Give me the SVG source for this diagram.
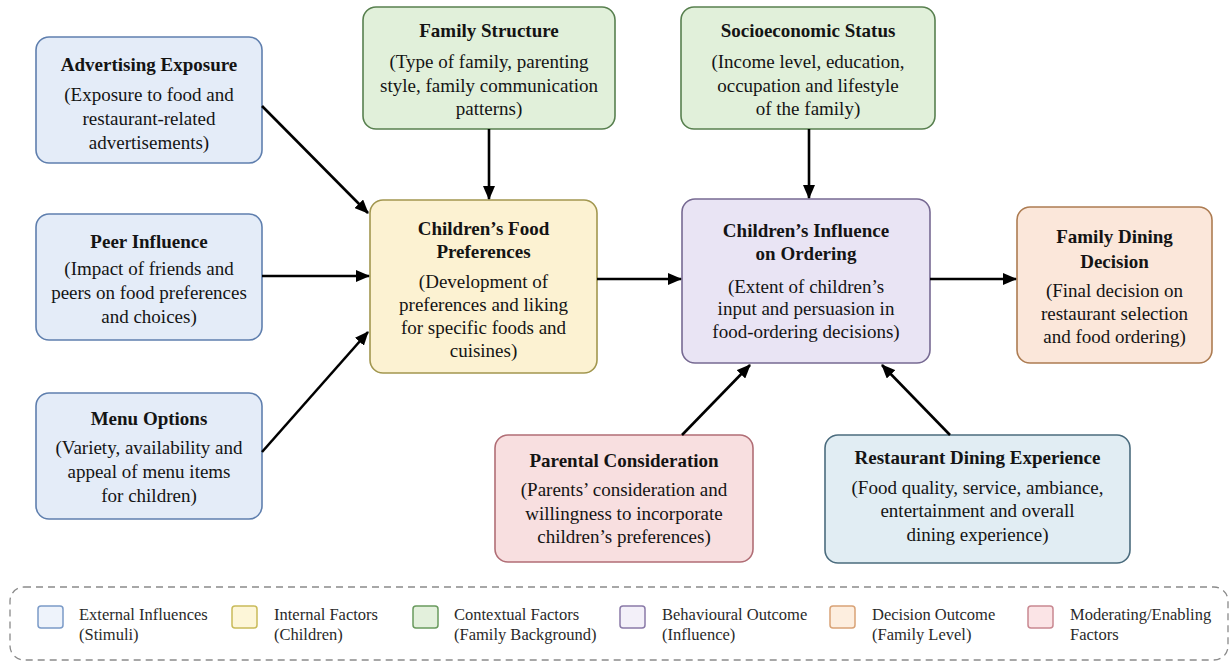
<svg xmlns="http://www.w3.org/2000/svg" width="1231" height="663" viewBox="0 0 1231 663">
<style>
.box{stroke-width:1.6}
.ext{fill:#e4ecf8;stroke:#5f7fae}
.int{fill:#fcf2d2;stroke:#a2974f}
.ctx{fill:#e1f0da;stroke:#58804f}
.beh{fill:#e9e4f4;stroke:#776a93}
.dec{fill:#fbe7da;stroke:#ad7c52}
.mod{fill:#f8dfe0;stroke:#b16e76}
.rde{fill:#e1edf3;stroke:#4b6c7e}
text{font-family:"Liberation Serif","Times New Roman",serif;fill:#141414;text-anchor:middle}
.t{font-size:19px;font-weight:bold}
.b{font-size:19px}
.lg{font-size:16.5px;text-anchor:start;fill:#2a2a2a}
.conn line{stroke:#000;stroke-width:2.6;marker-end:url(#ah)}
.lsq{stroke-width:1.5}
</style>
<defs>
<marker id="ah" markerUnits="userSpaceOnUse" markerWidth="14" markerHeight="12" refX="13" refY="6" orient="auto">
<path d="M0,0 L14,6 L0,12 z" fill="#000"/>
</marker>
</defs>
<rect width="1231" height="663" fill="#fff"/>

<g id="advertising">
<rect class="box ext" x="36" y="37" width="226" height="126" rx="13"/>
<text class="t" x="149" y="71">Advertising Exposure</text>
<text class="b" x="149" y="101">(Exposure to food and</text>
<text class="b" x="149" y="125">restaurant-related</text>
<text class="b" x="149" y="149">advertisements)</text>
</g>
<g id="peer">
<rect class="box ext" x="36" y="214" width="226" height="126" rx="13"/>
<text class="t" x="149" y="248">Peer Influence</text>
<text class="b" x="149" y="275">(Impact of friends and</text>
<text class="b" x="149" y="299">peers on food preferences</text>
<text class="b" x="149" y="323">and choices)</text>
</g>
<g id="menu">
<rect class="box ext" x="36" y="393" width="226" height="126" rx="13"/>
<text class="t" x="149" y="425">Menu Options</text>
<text class="b" x="149" y="454">(Variety, availability and</text>
<text class="b" x="149" y="478">appeal of menu items</text>
<text class="b" x="149" y="502">for children)</text>
</g>
<g id="family-structure">
<rect class="box ctx" x="363" y="7" width="252" height="122" rx="13"/>
<text class="t" x="489" y="37">Family Structure</text>
<text class="b" x="489" y="68">(Type of family, parenting</text>
<text class="b" x="489" y="92">style, family communication</text>
<text class="b" x="489" y="115">patterns)</text>
</g>
<g id="socioeconomic">
<rect class="box ctx" x="681" y="7" width="254" height="122" rx="13"/>
<text class="t" x="808" y="37">Socioeconomic Status</text>
<text class="b" x="808" y="68">(Income level, education,</text>
<text class="b" x="808" y="92">occupation and lifestyle</text>
<text class="b" x="808" y="115">of the family)</text>
</g>
<g id="food-preferences">
<rect class="box int" x="370" y="200" width="227" height="173" rx="13"/>
<text class="t" x="483.5" y="235">Children’s Food</text>
<text class="t" x="483.5" y="258">Preferences</text>
<text class="b" x="483.5" y="288">(Development of</text>
<text class="b" x="483.5" y="311">preferences and liking</text>
<text class="b" x="483.5" y="334">for specific foods and</text>
<text class="b" x="483.5" y="357">cuisines)</text>
</g>
<g id="influence">
<rect class="box beh" x="682" y="199" width="248" height="164" rx="13"/>
<text class="t" x="806" y="237">Children’s Influence</text>
<text class="t" x="806" y="260">on Ordering</text>
<text class="b" x="806" y="293">(Extent of children’s</text>
<text class="b" x="806" y="315">input and persuasion in</text>
<text class="b" x="806" y="338">food-ordering decisions)</text>
</g>
<g id="family-dining">
<rect class="box dec" x="1017" y="207" width="195" height="156" rx="13"/>
<text class="t" x="1114.5" y="243">Family Dining</text>
<text class="t" x="1114.5" y="268">Decision</text>
<text class="b" x="1114.5" y="297">(Final decision on</text>
<text class="b" x="1114.5" y="320">restaurant selection</text>
<text class="b" x="1114.5" y="343">and food ordering)</text>
</g>
<g id="parental">
<rect class="box mod" x="495" y="435" width="258" height="127" rx="13"/>
<text class="t" x="624" y="467">Parental Consideration</text>
<text class="b" x="624" y="496">(Parents’ consideration and</text>
<text class="b" x="624" y="520">willingness to incorporate</text>
<text class="b" x="624" y="543">children’s preferences)</text>
</g>
<g id="restaurant">
<rect class="box rde" x="825" y="435" width="305" height="128" rx="13"/>
<text class="t" x="977.5" y="464">Restaurant Dining Experience</text>
<text class="b" x="977.5" y="494">(Food quality, service, ambiance,</text>
<text class="b" x="977.5" y="517">entertainment and overall</text>
<text class="b" x="977.5" y="541">dining experience)</text>
</g>

<g id="connectors" class="conn">
<line x1="262" y1="106" x2="368" y2="213"/>
<line x1="262" y1="276" x2="369" y2="276"/>
<line x1="262" y1="452" x2="368" y2="332"/>
<line x1="489" y1="129" x2="489" y2="199"/>
<line x1="809" y1="129" x2="809" y2="198"/>
<line x1="597" y1="279" x2="681" y2="279"/>
<line x1="930" y1="279" x2="1016" y2="279"/>
<line x1="682" y1="435" x2="750" y2="365"/>
<line x1="950" y1="435" x2="882" y2="365"/>
</g>

<g id="legend">
<rect x="10" y="587" width="1218" height="73" rx="14" fill="none" stroke="#8a8a8a" stroke-width="1.3" stroke-dasharray="7,5"/>
<rect class="lsq" x="38" y="606" width="25" height="22" rx="3" fill="#eef3fb" stroke="#7b9bc8"/>
<text class="lg" x="79" y="620">External Influences</text>
<text class="lg" x="79" y="640">(Stimuli)</text>
<rect class="lsq" x="232" y="606" width="25" height="22" rx="3" fill="#fdf6d8" stroke="#c9bb5a"/>
<text class="lg" x="274" y="620">Internal Factors</text>
<text class="lg" x="274" y="640">(Children)</text>
<rect class="lsq" x="413" y="606" width="25" height="22" rx="3" fill="#e3f0dc" stroke="#6a9a5e"/>
<text class="lg" x="454" y="620">Contextual Factors</text>
<text class="lg" x="454" y="640">(Family Background)</text>
<rect class="lsq" x="620" y="606" width="25" height="22" rx="3" fill="#f3f0f9" stroke="#8a7aa8"/>
<text class="lg" x="662" y="620">Behavioural Outcome</text>
<text class="lg" x="662" y="640">(Influence)</text>
<rect class="lsq" x="830" y="606" width="25" height="22" rx="3" fill="#fdeedf" stroke="#d9a377"/>
<text class="lg" x="872" y="620">Decision Outcome</text>
<text class="lg" x="872" y="640">(Family Level)</text>
<rect class="lsq" x="1028" y="606" width="25" height="22" rx="3" fill="#fbe4e6" stroke="#c98891"/>
<text class="lg" x="1070" y="620">Moderating/Enabling</text>
<text class="lg" x="1070" y="640">Factors</text>
</g>
</svg>
